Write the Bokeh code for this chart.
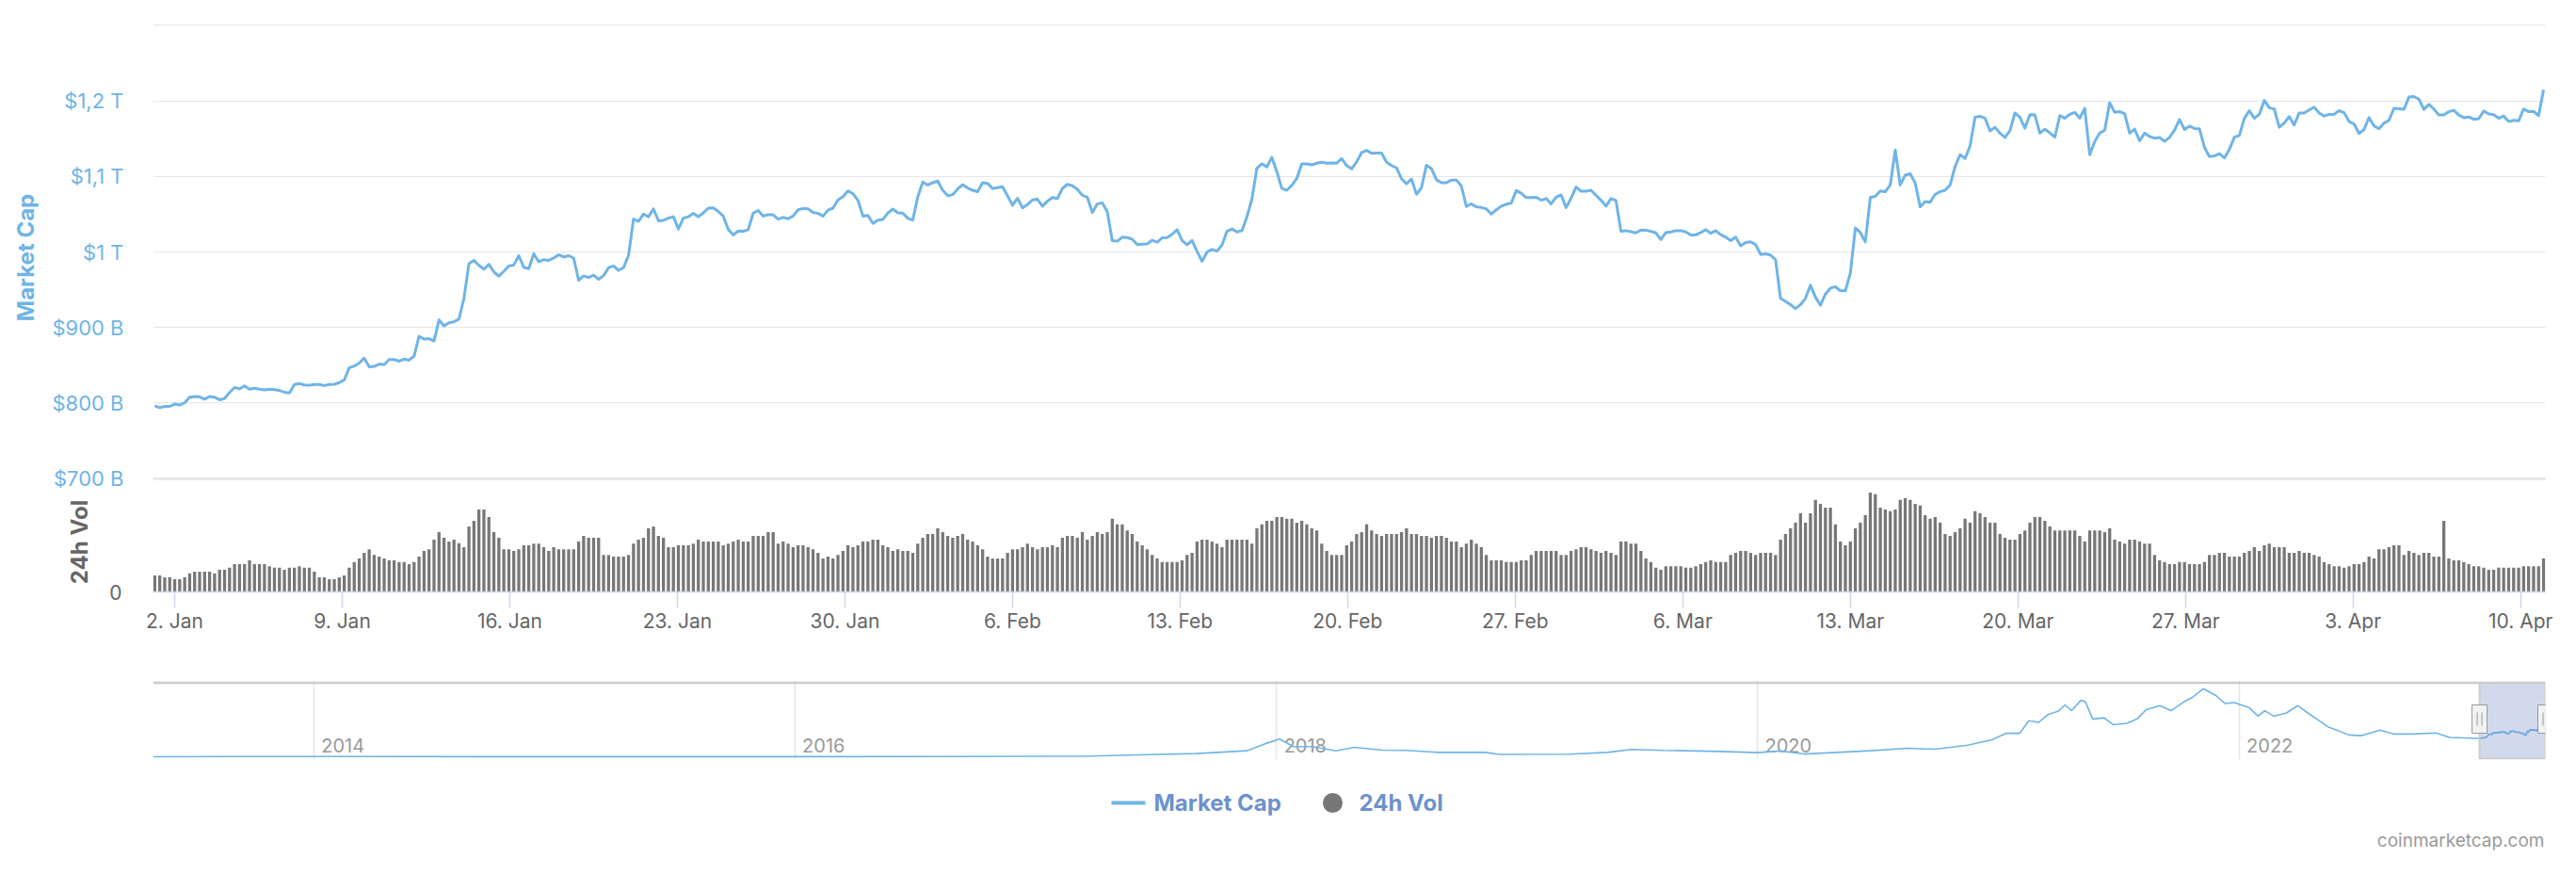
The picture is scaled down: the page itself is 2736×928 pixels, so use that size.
import pandas as pd
from bokeh.plotting import figure
from bokeh.models import Range1d, FixedTicker, Span, ColumnDataSource, Grid
from bokeh.layouts import column
from bokeh.embed import file_html
from bokeh.resources import INLINE
from bokeh.core.properties import value

# ---------------- data ----------------
series_start = "2023-01-01 04:00"
step_hours = 5

market_cap_b = [
    796.5, 793.9, 795.6, 795.6, 798.7, 797.4, 800.4, 807.8, 808.7, 808.3,
    805.2, 808.7, 807.8, 804.4, 806.1, 814.0, 820.5, 818.8, 822.7, 818.4,
    819.7, 818.4, 817.5, 818.4, 817.9, 816.6, 814.4, 813.5, 824.5, 825.8,
    824.0, 823.6, 824.5, 824.5, 823.2, 824.5, 824.9, 827.1, 830.6, 846.8,
    849.0, 852.9, 859.5, 848.1, 848.5, 851.6, 850.7, 857.7, 857.7, 855.5,
    858.2, 856.8, 862.1, 888.3, 884.8, 885.3, 882.2, 910.2, 902.3, 906.3,
    907.6, 911.1, 938.6, 984.6, 989.0, 982.4, 977.1, 983.7, 973.6, 968.0,
    974.5, 981.5, 982.8, 995.1, 979.8, 978.0, 997.7, 987.2, 989.8, 989.0,
    992.0, 996.4, 993.3, 995.1, 992.0, 962.7, 968.4, 966.2, 969.3, 964.0,
    968.8, 979.3, 981.5, 975.8, 979.3, 995.5, 1043.6,
    1040.6, 1050.2, 1046.7, 1057.2, 1041.4, 1041.9, 1044.9, 1046.7, 1030.5, 1044.9,
    1046.7, 1051.1, 1046.7, 1051.9, 1058.1, 1058.5, 1053.7, 1047.6, 1030.1, 1022.6,
    1027.9, 1027.4, 1029.6, 1051.5, 1055.0, 1047.6, 1049.3, 1049.3, 1043.6, 1045.8,
    1044.1, 1047.6, 1055.9, 1057.6, 1057.2, 1052.4, 1051.1, 1047.6, 1055.4, 1058.1,
    1069.0, 1073.4, 1080.8, 1077.3, 1068.6, 1047.6, 1048.4, 1037.9, 1042.3, 1043.2,
    1051.5, 1056.8, 1051.9, 1051.5, 1044.5, 1042.3, 1072.9, 1092.6, 1088.7, 1091.8,
    1093.9, 1081.7, 1074.7, 1076.0, 1083.4, 1089.1, 1084.8, 1081.7, 1079.9, 1091.8,
    1090.9, 1083.9, 1085.2, 1086.5, 1074.3, 1062.0, 1071.2, 1058.5, 1062.9, 1069.0,
    1069.9, 1060.7, 1067.3, 1072.1, 1070.8, 1084.3, 1089.6, 1087.8, 1083.0, 1075.1,
    1072.5, 1052.4, 1063.8, 1065.1, 1053.3, 1015.2,
    1014.3, 1019.6, 1019.1, 1017.0, 1009.9, 1010.4, 1010.8, 1015.6, 1013.0, 1018.7,
    1019.1, 1023.5, 1029.6, 1015.2, 1009.5, 1015.2, 1000.8, 987.6, 999.9, 1003.4,
    1001.2, 1009.1, 1027.4, 1030.5, 1026.6, 1028.3, 1046.7, 1069.9, 1111.0, 1116.7,
    1112.8, 1125.4, 1106.2, 1084.3, 1081.7, 1088.3, 1097.4, 1116.7, 1116.7, 1115.4,
    1117.6, 1118.9, 1117.6, 1118.0, 1117.6, 1123.7, 1114.5, 1110.1, 1119.3, 1131.6,
    1134.6, 1130.7, 1131.1, 1131.1, 1118.9, 1114.5, 1111.4, 1097.0, 1090.4, 1096.6,
    1076.4, 1085.2, 1114.9, 1110.6, 1095.7, 1091.8, 1091.8, 1095.3, 1095.3, 1087.4,
    1060.3, 1063.8, 1059.8, 1058.9, 1057.2, 1050.2, 1055.9, 1060.7, 1063.3, 1064.6,
    1081.3, 1077.8, 1072.1, 1072.1, 1072.5, 1068.6, 1070.8, 1063.8, 1072.5, 1075.6,
    1058.9, 1071.2, 1086.1, 1080.4, 1080.4, 1081.7,
    1075.1, 1068.6, 1060.7, 1070.8, 1068.1, 1027.4, 1028.3, 1027.0, 1025.3, 1029.2,
    1028.8, 1027.4, 1025.3, 1016.5, 1025.7, 1026.6, 1028.3, 1028.3, 1026.6, 1022.6,
    1022.6, 1025.7, 1029.6, 1024.8, 1028.3, 1023.1, 1019.6, 1015.2, 1019.6, 1008.2,
    1012.6, 1013.5, 1009.9, 996.8, 997.7, 996.0, 989.8, 938.6, 934.7, 930.3,
    925.1, 930.3, 938.6, 956.1, 940.4, 929.5, 944.3, 952.2, 954.0, 948.7,
    948.7, 972.3, 1031.8, 1025.7, 1013.5, 1072.1, 1073.8, 1080.8, 1079.9, 1088.7,
    1135.1, 1088.7, 1101.8, 1103.6, 1091.3, 1059.8, 1066.8, 1065.9, 1076.4, 1079.9,
    1081.7, 1088.7, 1113.2, 1128.9, 1123.7, 1140.3, 1178.4, 1179.7, 1177.1, 1160.4,
    1165.2, 1157.4, 1151.7, 1160.4, 1184.1, 1178.4, 1163.9, 1181.9, 1181.4, 1157.4,
    1162.6, 1157.8, 1152.1, 1180.6, 1177.1, 1182.3,
    1184.9, 1177.1, 1190.2, 1128.9, 1146.4, 1157.4, 1161.3, 1197.6, 1184.9, 1185.8,
    1183.2, 1157.4, 1162.6, 1147.3, 1157.4, 1153.0, 1150.8, 1151.7, 1146.4, 1151.7,
    1161.3, 1175.3, 1162.2, 1166.6, 1163.5, 1163.1, 1138.6, 1126.3, 1127.2, 1130.2,
    1124.6, 1135.9, 1152.1, 1154.3, 1177.1, 1187.1, 1177.1, 1182.3, 1200.7, 1191.1,
    1189.3, 1165.2, 1170.9, 1179.2, 1168.3, 1184.1, 1184.1, 1188.0, 1191.9, 1184.1,
    1180.1, 1182.3, 1182.3, 1187.1, 1184.5, 1172.7, 1169.6, 1156.9, 1162.2, 1177.9,
    1167.0, 1163.1, 1170.5, 1174.4, 1190.2, 1189.7, 1188.9, 1205.1, 1205.9, 1202.4,
    1188.9, 1195.4, 1189.3, 1181.4, 1181.4, 1185.8, 1187.6, 1181.4, 1177.9, 1178.8,
    1175.7, 1176.6, 1186.7, 1182.7, 1181.9, 1177.1, 1180.1, 1172.7, 1174.4, 1173.6,
    1189.3, 1185.8, 1186.2, 1180.6, 1214.7,
]

volume_b = [
    23.4, 23.4, 20.6, 20.6, 17.8, 17.8, 20.6, 26.2, 28.5, 28.5,
    28.5, 28.5, 26.2, 31.3, 31.3, 34.1, 39.3, 39.3, 39.3, 44.4,
    39.3, 39.3, 39.3, 36.4, 34.1, 34.1, 31.3, 34.1, 34.1, 36.4,
    34.1, 34.1, 28.5, 20.6, 20.6, 17.8, 17.8, 20.6, 23.4, 34.1,
    42.1, 47.2, 55.1, 60.3, 52.3, 50.0, 47.2, 44.4, 44.4, 42.1,
    42.1, 39.3, 42.1, 50.0, 57.9, 60.3, 73.8, 84.6, 76.6, 71.0,
    73.8, 68.7, 63.1, 92.5, 100.5, 116.4, 116.4, 105.6, 84.6, 76.6,
    60.3, 60.3, 57.9, 60.3, 65.9, 65.9, 68.2, 68.2, 63.1, 57.9,
    63.1, 60.3, 60.3, 60.3, 60.3, 71.0, 79.0, 76.6, 76.6, 76.6,
    52.3, 52.3, 50.0, 50.0, 50.0, 52.3,
    68.2, 73.8, 76.6, 89.7, 92.5, 79.0, 76.6, 63.1, 63.1, 65.9,
    65.9, 65.9, 68.2, 73.8, 71.0, 71.0, 71.0, 71.0, 65.9, 68.2,
    71.0, 73.8, 71.0, 71.0, 79.0, 79.0, 79.0, 84.6, 84.6, 68.2,
    71.0, 68.2, 63.1, 65.9, 65.9, 63.1, 60.3, 55.1, 47.2, 50.0,
    47.2, 52.3, 57.9, 65.9, 63.1, 65.9, 71.0, 71.0, 73.8, 73.8,
    65.9, 63.1, 57.9, 60.3, 57.9, 57.9, 55.1, 68.2, 76.6, 81.8,
    81.8, 89.7, 84.6, 79.0, 76.6, 79.0, 81.8, 73.8, 71.0, 65.9,
    60.3, 50.0, 47.2, 47.2, 47.2, 55.1, 60.3, 60.3, 63.1, 68.2,
    63.1, 60.3, 63.1, 63.1, 65.9, 63.1, 76.6, 79.0, 79.0, 76.6,
    84.6, 73.8, 79.0, 84.6, 81.8, 84.6,
    103.3, 95.3, 95.3, 86.9, 81.8, 71.0, 65.9, 60.3, 52.3, 47.2,
    42.1, 42.1, 42.1, 42.1, 44.4, 52.3, 55.1, 71.0, 73.8, 73.8,
    71.0, 68.2, 63.1, 73.8, 73.8, 73.8, 73.8, 73.8, 68.2, 89.7,
    95.3, 100.5, 100.5, 105.6, 105.6, 103.3, 103.3, 97.7, 100.5, 95.3,
    89.7, 86.9, 68.2, 57.9, 52.3, 52.3, 52.3, 65.9, 71.0, 81.8,
    84.6, 95.3, 86.9, 81.8, 79.0, 81.8, 81.8, 81.8, 84.6, 89.7,
    81.8, 81.8, 79.0, 79.0, 76.6, 79.0, 79.0, 76.6, 71.0, 71.0,
    63.1, 68.2, 73.8, 68.2, 63.1, 52.3, 44.4, 44.4, 44.4, 42.1,
    42.1, 42.1, 44.4, 44.4, 52.3, 57.9, 57.9, 57.9, 57.9, 57.9,
    52.3, 52.3, 57.9, 60.3, 63.1, 63.1,
    60.3, 57.9, 55.1, 57.9, 55.1, 52.3, 71.0, 71.0, 68.2, 68.2,
    57.9, 47.2, 42.1, 34.1, 31.3, 36.4, 36.4, 36.4, 36.4, 34.1,
    34.1, 36.4, 39.3, 42.1, 44.4, 42.1, 42.1, 42.1, 52.3, 55.1,
    57.9, 57.9, 55.1, 52.3, 55.1, 55.1, 55.1, 52.3, 73.8, 81.8,
    89.7, 97.7, 111.2, 97.7, 111.2, 129.9, 124.3, 119.2, 119.2, 95.3,
    71.0, 65.9, 71.0, 89.7, 97.7, 108.4, 140.2, 137.9, 119.2, 116.4,
    114.0, 116.4, 129.9, 132.2, 129.9, 124.3, 122.0, 108.4, 103.3, 105.6,
    97.7, 81.8, 79.0, 84.6, 89.7, 103.3, 97.7, 114.0, 111.2, 105.6,
    97.7, 97.7, 81.8, 76.6, 73.8, 73.8, 81.8, 86.9, 97.7, 105.6,
    105.6, 100.5, 92.5, 86.9, 86.9, 86.9,
    86.9, 86.9, 79.0, 71.0, 86.9, 86.9, 86.9, 84.6, 89.7, 73.8,
    71.0, 68.2, 73.8, 73.8, 71.0, 68.2, 68.2, 52.3, 44.4, 42.1,
    39.3, 39.3, 42.1, 42.1, 39.3, 39.3, 39.3, 42.1, 52.3, 52.3,
    55.1, 55.1, 50.0, 50.0, 50.0, 55.1, 57.9, 63.1, 57.9, 65.9,
    68.2, 63.1, 63.1, 63.1, 55.1, 55.1, 57.9, 55.1, 55.1, 52.3,
    50.0, 42.1, 39.3, 36.4, 36.4, 34.1, 36.4, 39.3, 39.3, 42.1,
    50.0, 47.2, 60.3, 60.3, 63.1, 65.9, 65.9, 52.3, 57.9, 55.1,
    52.3, 55.1, 55.1, 50.0, 50.0, 100.5, 47.2, 44.4, 44.4, 42.1,
    39.3, 36.4, 36.4, 34.1, 31.3, 31.3, 34.1, 34.1, 34.1, 34.1,
    34.1, 36.4, 36.4, 36.4, 36.4, 47.2,
]

x_tick_dates = ["2023-01-02", "2023-01-09", "2023-01-16", "2023-01-23", "2023-01-30",
                "2023-02-06", "2023-02-13", "2023-02-20", "2023-02-27", "2023-03-06",
                "2023-03-13", "2023-03-20", "2023-03-27", "2023-04-03", "2023-04-10"]
x_tick_labels = ["2. Jan", "9. Jan", "16. Jan", "23. Jan", "30. Jan",
                 "6. Feb", "13. Feb", "20. Feb", "27. Feb", "6. Mar",
                 "13. Mar", "20. Mar", "27. Mar", "3. Apr", "10. Apr"]

y_ticks = [700, 800, 900, 1000, 1100, 1200, 1300]
y_tick_labels = ["$700 B", "$800 B", "$900 B", "$1 T", "$1,1 T", "$1,2 T", ""]
vol_ticks = [0]

nav_dates = ["2013-05-02", "2013-11-30", "2014-03-01", "2014-09-01", "2015-03-01", "2015-09-01",
             "2016-03-01", "2016-09-01", "2017-01-01", "2017-03-14", "2017-06-06", "2017-09-02",
             "2017-11-17", "2017-12-16", "2018-01-06", "2018-01-27", "2018-02-25", "2018-04-01",
             "2018-04-29", "2018-06-11", "2018-07-17", "2018-09-05", "2018-11-14", "2018-12-06",
             "2019-03-23", "2019-05-19", "2019-06-24", "2019-08-12", "2019-11-05", "2020-01-01",
             "2020-02-05", "2020-03-12", "2020-06-20", "2020-08-16", "2020-09-27", "2020-11-15",
             "2020-12-22", "2021-01-12", "2021-02-02", "2021-02-16", "2021-03-03", "2021-03-17",
             "2021-04-01", "2021-04-12", "2021-04-22", "2021-05-06", "2021-05-13", "2021-05-24",
             "2021-06-10", "2021-06-24", "2021-07-15", "2021-07-30", "2021-08-13", "2021-09-03",
             "2021-09-20", "2021-10-09", "2021-10-23", "2021-11-08", "2021-11-27", "2021-12-11",
             "2021-12-25", "2022-01-16", "2022-01-30", "2022-02-09", "2022-02-23", "2022-03-14",
             "2022-03-31", "2022-04-18", "2022-05-17", "2022-06-17", "2022-07-06", "2022-08-03",
             "2022-08-24", "2022-09-22", "2022-10-27", "2022-11-17", "2022-12-30"]
nav_values_t = [0.0015, 0.013, 0.009, 0.006, 0.004, 0.004,
                0.007, 0.010, 0.018, 0.02, 0.08, 0.14,
                0.26, 0.58, 0.77, 0.44, 0.44, 0.26,
                0.41, 0.29, 0.28, 0.19, 0.19, 0.10,
                0.11, 0.19, 0.32, 0.28, 0.23, 0.18,
                0.25, 0.12, 0.26, 0.37, 0.33, 0.50,
                0.74, 1.02, 1.02, 1.57, 1.50, 1.84,
                1.98, 2.26, 2.01, 2.46, 2.39, 1.64,
                1.70, 1.40, 1.46, 1.64, 2.05, 2.23,
                2.01, 2.39, 2.60, 2.97, 2.67, 2.32,
                2.36, 2.15, 1.77, 2.01, 1.77, 1.91,
                2.23, 1.86, 1.29, 0.95, 0.92, 1.16,
                0.99, 0.99, 1.04, 0.84, 0.80]

nav_year_dates = ["2014-01-01", "2016-01-01", "2018-01-01", "2020-01-01", "2022-01-01"]
nav_year_labels = ["2014", "2016", "2018", "2020", "2022"]

legend_labels = ["Market Cap", "24h Vol"]
credit_text = "coinmarketcap.com"

assert len(market_cap_b) == len(volume_b) == 480
assert len(nav_dates) == len(nav_values_t)

# ---------------- styles / layout (page pixels) ----------------
FONT = "Inter"
MC_COLOR = "#6fb4e6"
VOL_COLOR = "#777777"
GRID = "#e6e6e6"
AXIS = "#ccd6eb"
LABEL_GRAY = "#666666"
LEGEND_BLUE = "#6c92cc"

PAGE_W = 2736
FRAME_L, FRAME_W = 162, 2541
FRAME_R = PAGE_W - FRAME_L - FRAME_W
PX_PER_B = 0.802          # market-cap pane: pixels per $1B
MC_TOP_VALUE = 1303.1     # value at the top edge of the market-cap pane
MC_PANE_H = 498           # page y 24..522
VOL_PANE_H = 106          # page y 522..628
VOL_PX_PER_B = 120.3 / 160


def ms(ts):
    return pd.Timestamp(ts).value / 1e6


times = pd.date_range(series_start, periods=len(market_cap_b), freq=f"{step_hours}h")
step_ms = step_hours * 3600 * 1000
main_start = pd.Timestamp("2023-01-01 02:15")
main_end = pd.Timestamp("2023-04-11 00:50")
shared_x = Range1d(main_start, main_end)

src = ColumnDataSource(dict(t=times, mc=market_cap_b, vol=volume_b))

# ---------------- market cap pane ----------------
p = figure(x_axis_type="datetime", x_range=shared_x,
           y_range=Range1d(MC_TOP_VALUE - MC_PANE_H / PX_PER_B, MC_TOP_VALUE),
           frame_width=FRAME_W, frame_height=MC_PANE_H,
           min_border_left=FRAME_L, min_border_right=FRAME_R,
           min_border_top=24, min_border_bottom=0,
           x_axis_location=None,
           toolbar_location=None, output_backend="svg",
           outline_line_color=None, background_fill_color="white")
p.ygrid.visible = False
p.xgrid.visible = False
p.add_layout(Grid(dimension=1, ticker=FixedTicker(ticks=y_ticks),
                  grid_line_color=GRID, grid_line_width=1))
p.add_layout(Span(location=700, dimension="width", line_color=GRID, line_width=3))
p.line(x="t", y="mc", source=src, line_color=MC_COLOR, line_width=3, line_join="round")

yax = p.yaxis[0]
yax.ticker = FixedTicker(ticks=y_ticks)
yax.major_label_overrides = {t: l for t, l in zip(y_ticks, y_tick_labels)}
yax.axis_line_color = None
yax.major_tick_line_color = None
yax.minor_tick_line_color = None
yax.major_label_standoff = 25
yax.major_label_text_font = FONT
yax.major_label_text_font_size = "22px"
yax.major_label_text_color = MC_COLOR
yax.axis_label = "Market Cap"
yax.axis_label_text_font = FONT
yax.axis_label_text_font_size = "24px"
yax.axis_label_text_font_style = "bold"
yax.axis_label_text_color = MC_COLOR
yax.axis_label_standoff = 10

# ---------------- volume pane ----------------
v = figure(x_axis_type="datetime", x_range=shared_x,
           y_range=Range1d(0, VOL_PANE_H / VOL_PX_PER_B),
           frame_width=FRAME_W, frame_height=VOL_PANE_H,
           min_border_left=FRAME_L, min_border_right=FRAME_R,
           min_border_top=0, min_border_bottom=72,
           toolbar_location=None, output_backend="svg",
           outline_line_color=None, background_fill_color="white")
v.ygrid.visible = False
v.xgrid.visible = False
v.vbar(x="t", top="vol", width=step_ms * 0.62, source=src,
       fill_color=VOL_COLOR, line_color=None)

vax = v.yaxis[0]
vax.ticker = FixedTicker(ticks=vol_ticks)
vax.axis_line_color = None
vax.major_tick_line_color = None
vax.minor_tick_line_color = None
vax.major_label_standoff = 27
vax.major_label_text_font = FONT
vax.major_label_text_font_size = "21px"
vax.major_label_text_color = LABEL_GRAY
vax.axis_label = "24h Vol"
vax.axis_label_text_font = FONT
vax.axis_label_text_font_size = "24px"
vax.axis_label_text_font_style = "bold"
vax.axis_label_text_color = LABEL_GRAY
vax.axis_label_standoff = 14

tick_ms = [ms(d) for d in x_tick_dates]
xax = v.xaxis[0]
xax.ticker = FixedTicker(ticks=tick_ms)
xax.major_label_overrides = {t: l for t, l in zip(tick_ms, x_tick_labels)}
xax.axis_line_color = AXIS
xax.axis_line_width = 1.5
xax.major_tick_line_color = AXIS
xax.major_tick_line_width = 1.5
xax.major_tick_out = 17
xax.major_tick_in = 0
xax.minor_tick_line_color = None
xax.major_label_standoff = 1
xax.major_label_text_font = FONT
xax.major_label_text_font_size = "21px"
xax.major_label_text_color = LABEL_GRAY

# ---------------- navigator ----------------
nav_px_per_day = FRAME_W / ((main_end - pd.Timestamp(nav_dates[0])).total_seconds() / 86400)
nav_zero_y = 803.0
nav_px_per_t = 24.34
nav_top_page, nav_bottom_page = 722.0, 806.0


def nav_val(page_y):
    return (nav_zero_y - page_y) / nav_px_per_t


nav = figure(x_axis_type="datetime",
             x_range=Range1d(pd.Timestamp(nav_dates[0]), main_end),
             y_range=Range1d(nav_val(nav_bottom_page), nav_val(nav_top_page)),
             frame_width=FRAME_W, frame_height=84,
             min_border_left=FRAME_L, min_border_right=FRAME_R,
             min_border_top=22, min_border_bottom=9,
             toolbar_location=None, output_backend="svg",
             outline_line_color=None, background_fill_color="white")
nav.xaxis.visible = False
nav.yaxis.visible = False
nav.ygrid.visible = False
year_ms = [ms(d) for d in nav_year_dates]
nav.xgrid.ticker = FixedTicker(ticks=year_ms)
nav.xgrid.grid_line_color = GRID
nav.xgrid.grid_line_width = 1.5

nav.text(x=[pd.Timestamp(d) for d in nav_year_dates], y=[nav_val(791)] * len(nav_year_dates),
         text=nav_year_labels, x_offset=8, text_align="left", text_baseline="alphabetic",
         text_font=value(FONT), text_font_size="20px", text_color="#999999")

nav_t = [pd.Timestamp(d) for d in nav_dates] + list(times)
nav_v = list(nav_values_t) + [val / 1000 for val in market_cap_b]
nav.line(x=nav_t, y=nav_v, line_color=MC_COLOR, line_width=1.6)

nav.quad(left=[main_start], right=[main_end], bottom=[nav_val(805)], top=[nav_val(724.5)],
         fill_color="#6685c2", fill_alpha=0.3, line_color="#cccccc", line_width=2)
nav.segment(x0=[pd.Timestamp(nav_dates[0])], y0=[nav_val(724.5)], x1=[main_end], y1=[nav_val(724.5)],
            line_color="#cccccc", line_width=2.5)
nav.rect(x=[main_start, main_end], y=[nav_val(763)] * 2, width=16, height=30,
         width_units="screen", height_units="screen",
         fill_color="#f2f2f2", line_color="#999999", line_width=1)
off = pd.Timedelta(days=2.5 / nav_px_per_day)
gx = [main_start - off, main_start + off, main_end - off, main_end + off]
nav.segment(x0=gx, y0=[nav_val(756)] * 4, x1=gx, y1=[nav_val(770)] * 4,
            line_color="#999999", line_width=1)

# ---------------- legend and credits ----------------
leg = figure(frame_width=FRAME_W, frame_height=113,
             x_range=Range1d(FRAME_L, FRAME_L + FRAME_W), y_range=Range1d(928, 815),
             x_axis_location=None, y_axis_location=None,
             min_border_left=FRAME_L, min_border_right=FRAME_R,
             min_border_top=0, min_border_bottom=0,
             toolbar_location=None, output_backend="svg", outline_line_color=None)
leg.xgrid.visible = False
leg.ygrid.visible = False
leg.segment(x0=[1180], y0=[852], x1=[1216], y1=[852], line_color=MC_COLOR, line_width=4)
leg.scatter(x=[1415], y=[852], size=21, marker="circle", fill_color=VOL_COLOR, line_color=None)
leg.text(x=[1225, 1443], y=[852, 852], text=legend_labels, text_align="left",
         text_baseline="middle", text_font=value(FONT), text_font_size="24px",
         text_font_style="bold", text_color=LEGEND_BLUE)
leg.text(x=[2702], y=[892], text=[credit_text], text_align="right", text_baseline="middle",
         text_font=value(FONT), text_font_size="19px", text_color="#999999")

layout = column(p, v, nav, leg, spacing=0)
open("out.html", "w").write(file_html(layout, INLINE))
